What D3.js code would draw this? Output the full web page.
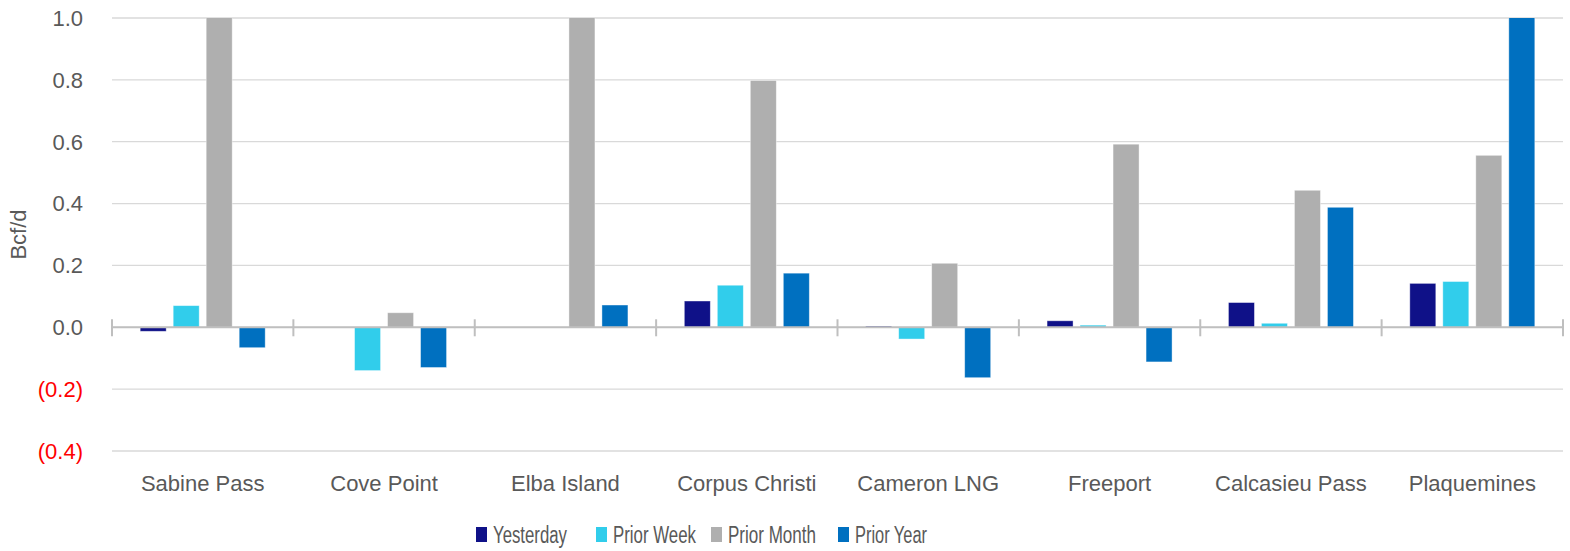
<!DOCTYPE html>
<html>
<head>
<meta charset="utf-8">
<script src="https://cdn.jsdelivr.net/npm/d3@7"></script>
<style>
  body { margin: 0; background: #fff; }
  text { font-family: "Liberation Sans", Arial, sans-serif; }
</style>
</head>
<body>
<svg id="chart" width="1570" height="551"></svg>
<script>
// terminals and series
const terminals = ["Sabine Pass", "Cove Point", "Elba Island", "Corpus Christi", "Cameron LNG", "Freeport", "Calcasieu Pass", "Plaquemines"];
const seriesNames = ["Yesterday", "Prior Week", "Prior Month", "Prior Year"];
const seriesColors = ["#0F1188", "#31CDEB", "#AFAFAF", "#0070C0"];

// Bcf/d changes (bars above 1.0 are cut off at the top of the chart)
const yesterday  = [-0.013, 0, 0, 0.085, 0.004, 0.021, 0.080, 0.142];
const priorWeek  = [0.070, -0.140, 0, 0.136, -0.038, 0.007, 0.013, 0.148];
const priorMonth = [1.3, 0.047, 1.3, 0.798, 0.207, 0.592, 0.443, 0.556];
const priorYear  = [-0.066, -0.130, 0.072, 0.175, -0.163, -0.112, 0.388, 1.3];

const yTicks = [-0.4, -0.2, 0, 0.2, 0.4, 0.6, 0.8, 1.0];

const allSeries = [yesterday, priorWeek, priorMonth, priorYear];

const width = 1570, height = 551;
const margin = { top: 18, right: 7, bottom: 100, left: 112 };
const plotW = width - margin.left - margin.right;
const plotH = height - margin.top - margin.bottom;

const svg = d3.select("#chart");
const g = svg.append("g").attr("transform", `translate(${margin.left},${margin.top})`);

const x0 = d3.scaleBand().domain(terminals).range([0, plotW]);
const x1 = d3.scaleBand().domain(seriesNames).range([0, x0.bandwidth()])
    .paddingInner(0.212).paddingOuter(0.854);
const y = d3.scaleLinear().domain([-0.4, 1.0]).range([plotH, 0]);

// gridlines
g.selectAll(".grid").data(yTicks).enter().append("line")
    .attr("x1", 0).attr("x2", plotW)
    .attr("y1", d => y(d)).attr("y2", d => y(d))
    .attr("stroke", "#D9D9D9").attr("stroke-width", 1.3);

// y tick labels
g.selectAll(".ylab").data(yTicks).enter().append("text")
    .attr("x", -29).attr("y", d => y(d)).attr("dy", "0.36em")
    .attr("text-anchor", "end").style("font-size", "22px")
    .attr("fill", d => d < 0 ? "#FF0000" : "#595959")
    .text(d => d < 0 ? `(${d3.format(".1f")(-d)})` : d3.format(".1f")(d));

// y title
svg.append("text")
    .attr("transform", `translate(26,${margin.top + plotH / 2}) rotate(-90)`)
    .attr("text-anchor", "middle").style("font-size", "22px").attr("fill", "#595959")
    .text("Bcf/d");

// bars, clipped to the plot area
svg.append("defs").append("clipPath").attr("id", "clip")
    .append("rect").attr("x", 0).attr("y", 0).attr("width", plotW).attr("height", plotH);

const bars = g.append("g").attr("clip-path", "url(#clip)");
terminals.forEach((t, i) => {
    bars.selectAll(null).data(seriesNames).enter().append("rect")
        .attr("x", s => x0(t) + x1(s))
        .attr("width", x1.bandwidth())
        .attr("y", (s, j) => y(Math.max(0, allSeries[j][i])))
        .attr("height", (s, j) => Math.abs(y(allSeries[j][i]) - y(0)))
        .attr("fill", (s, j) => seriesColors[j])
        .attr("stroke", "#ffffff").attr("stroke-opacity", 0.5).attr("stroke-width", 0.8);
});

// zero axis with category tick marks
g.append("line")
    .attr("x1", 0).attr("x2", plotW).attr("y1", y(0)).attr("y2", y(0))
    .attr("stroke", "#BFBFBF").attr("stroke-width", 2);
const bounds = terminals.map(t => x0(t)).concat([plotW]);
g.selectAll(".tick").data(bounds).enter().append("line")
    .attr("x1", d => d).attr("x2", d => d)
    .attr("y1", y(0) - 8).attr("y2", y(0) + 9)
    .attr("stroke", "#BFBFBF").attr("stroke-width", 2);

// category labels
g.selectAll(".cat").data(terminals).enter().append("text")
    .attr("x", d => x0(d) + x0.bandwidth() / 2)
    .attr("y", plotH + 40)
    .attr("text-anchor", "middle").style("font-size", "22px").attr("fill", "#595959")
    .text(d => d);

// legend (narrow font, squeezed to fit like the original)
const legendX = [476, 596, 711, 838];
const legendW = [74, 83, 88, 72];
const legend = svg.append("g");
seriesNames.forEach((s, i) => {
    legend.append("rect")
        .attr("x", legendX[i]).attr("y", 527).attr("width", 11).attr("height", 15)
        .attr("fill", seriesColors[i]);
    legend.append("text")
        .attr("x", legendX[i] + 17).attr("y", 543)
        .attr("textLength", legendW[i]).attr("lengthAdjust", "spacingAndGlyphs")
        .style("font-size", "23px").attr("fill", "#595959")
        .text(s);
});
</script>
</body>
</html>
